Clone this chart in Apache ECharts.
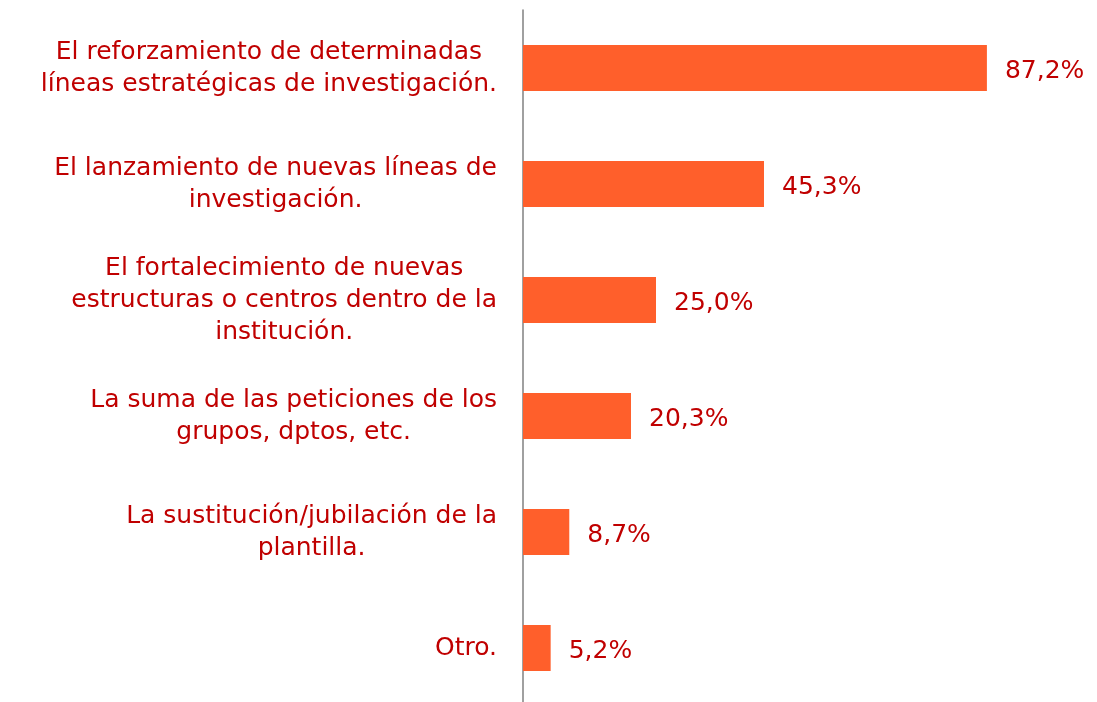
<!DOCTYPE html>
<html>
<head>
<meta charset="utf-8">
<script src="https://cdn.jsdelivr.net/npm/echarts@6/dist/echarts.min.js"></script>
<style>
  html, body { margin: 0; padding: 0; background: #fff; }
  #chart { width: 1097px; height: 702px; }
</style>
</head>
<body>
<div id="chart"></div>
<script>
// categorias (saltos de linea como en el original)
var categories = [
  'El reforzamiento de determinadas\nlíneas estratégicas de investigación.',
  'El lanzamiento de nuevas líneas de\ninvestigación.',
  'El fortalecimiento de nuevas\nestructuras o centros dentro de la\ninstitución.',
  'La suma de las peticiones de los\ngrupos, dptos, etc.',
  'La sustitución/jubilación de la\nplantilla.',
  'Otro.'
]
var values = [87.2, 45.3, 25.0, 20.3, 8.7, 5.2]

var textColor = '#C00000'
var fontFamily = '"DejaVu Sans", Verdana, sans-serif'

var chart = echarts.init(document.getElementById('chart'))
var option = {
  animation: false,
  grid: {
    left: 523,
    right: 42,
    top: 10,
    height: 696,
    outerBoundsMode: 'none',
  },
  xAxis: {
    type: 'value',
    min: 0,
    max: 100,
    show: false,
  },
  yAxis: {
    type: 'category',
    data: categories,
    inverse: true,
    axisLine: {
      lineStyle: { color: '#808080', width: 1.5 },
    },
    axisTick: { show: false },
    axisLabel: {
      margin: 26,
      align: 'right',
      color: textColor,
      fontFamily: fontFamily,
      fontSize: 25,
      lineHeight: 32,
      // cada linea centrada dentro del bloque
      formatter: function (val) {
        return val.split('\n').map(function (l) { return '{c|' + l + '}' }).join('\n')
      },
      rich: {
        c: {
          align: 'center',
          color: textColor,
          fontFamily: fontFamily,
          fontSize: 25,
          lineHeight: 32,
        },
      },
    },
  },
  series: [
    {
      type: 'bar',
      data: values,
      barWidth: 46,
      itemStyle: { color: '#FF5F2B' },
      label: {
        show: true,
        position: 'right',
        distance: 18,
        offset: [0, 3],
        color: textColor,
        fontFamily: fontFamily,
        fontSize: 25,
        formatter: function (p) {
          return p.value.toFixed(1).replace('.', ',') + '%'
        },
      },
    },
  ],
}
chart.setOption(option)
</script>
</body>
</html>
